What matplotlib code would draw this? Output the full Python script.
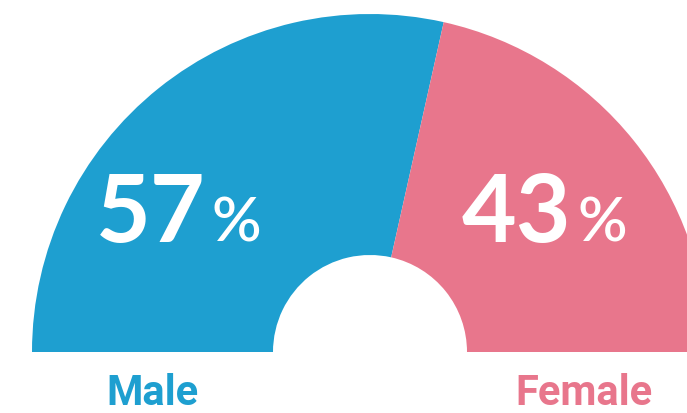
import matplotlib
matplotlib.use("Agg")
import matplotlib.pyplot as plt
from matplotlib.patches import Wedge

labels = ["Male", "Female"]
shares = [57, 43]
colors = ["#1E9FD0", "#E8768C"]

W, H = 687, 413
fig = plt.figure(figsize=(W / 100, H / 100), dpi=100)
ax = fig.add_axes([0, 0, 1, 1])
ax.set_xlim(0, W)
ax.set_ylim(0, H)
ax.axis("off")

cx, cy = 370, H - 352
r_out, r_in = 338, 97

# half donut, from the left (180 deg) clockwise
total = sum(shares)
start = 180.0
for v, c in zip(shares, colors):
    sweep = 180.0 * v / total
    ax.add_patch(Wedge((cx, cy), r_out, start - sweep, start,
                       width=r_out - r_in, facecolor=c, edgecolor="none"))
    start -= sweep

num_font = ["Lato", "DejaVu Sans"]
lab_font = ["Roboto", "DejaVu Sans"]

num_pos = [(206, H - 242), (571, H - 242)]
lab_pos = [(152, H - 405), (584, H - 405)]
for v, lab, c, (nx, ny), (lx, ly) in zip(shares, labels, colors, num_pos, lab_pos):
    ax.text(nx, ny, f"{v}", color="white", fontsize=68, fontweight="bold",
            family=num_font, ha="right", va="baseline")
    ax.text(nx + 6, ny, "%", color="white", fontsize=44, fontweight="semibold",
            family=num_font, ha="left", va="baseline")
    ax.text(lx, ly, lab, color=c, fontsize=30, fontweight="bold",
            family=lab_font, ha="center", va="baseline")

fig.savefig("out.png", dpi=100)
